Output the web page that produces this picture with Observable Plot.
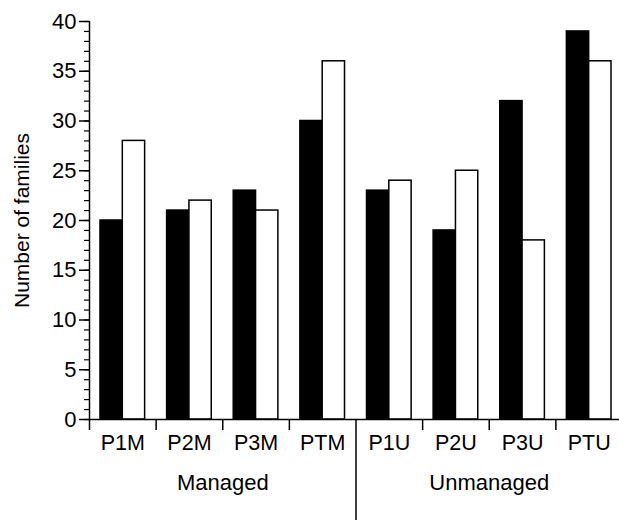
<!DOCTYPE html>
<html>
<head>
<meta charset="utf-8">
<script src="https://cdn.jsdelivr.net/npm/d3@7"></script>
<script src="https://cdn.jsdelivr.net/npm/@observablehq/plot@0.6"></script>
<style>
  html, body { margin: 0; padding: 0; background: #fff; }
</style>
</head>
<body>
<div id="chart"></div>
<script>
const groups = ["P1M", "P2M", "P3M", "PTM", "P1U", "P2U", "P3U", "PTU"];
const blackValues = [20, 21, 23, 30, 23, 19, 32, 39];
const whiteValues = [28, 22, 21, 36, 24, 25, 18, 36];
const sections = ["Managed", "Unmanaged"];
const yMajorTicks = [0, 5, 10, 15, 20, 25, 30, 35, 40];
const yLabel = "Number of families";

const font = "'Liberation Sans', Arial, Helvetica, sans-serif";
const pad = 0.165, bw = 0.335;

const rows = [];
groups.forEach((g, i) => {
  rows.push({group: g, i, s: 0, value: blackValues[i]});
  rows.push({group: g, i, s: 1, value: whiteValues[i]});
});
const minorTicks = d3.range(0, 41, 1);
const boundaryTicks = d3.range(0, groups.length + 1).filter(v => v !== groups.length / 2);

const chart = Plot.plot({
  width: 619,
  height: 522,
  marginLeft: 89,
  marginTop: 21,
  marginBottom: 103,
  marginRight: 0,
  style: {fontFamily: font, fontSize: "21px", background: "white", color: "black"},
  x: {domain: [0, groups.length], range: [89, 622], axis: null},
  y: {domain: [0, 40], axis: null},
  marks: [
    Plot.rectY(rows, {
      x1: d => d.i + pad + d.s * bw,
      x2: d => d.i + pad + (d.s + 1) * bw,
      y: "value",
      fill: d => d.s === 0 ? "black" : "white",
      stroke: "black",
      strokeWidth: 1.5
    }),
    Plot.axisY(minorTicks, {anchor: "left", tickSize: 5, tickFormat: () => "", strokeWidth: 1.2, label: null}),
    Plot.axisY(yMajorTicks, {anchor: "left", tickSize: 10, tickPadding: 3, strokeWidth: 1.5, fontSize: 22, label: null}),
    Plot.ruleX([0], {y1: 0, y2: 40, strokeWidth: 1.5}),
    Plot.ruleY([0], {x1: 0, x2: groups.length, strokeWidth: 1.5}),
    Plot.axisX(boundaryTicks, {anchor: "bottom", tickSize: 11, tickFormat: () => "", strokeWidth: 1.5, label: null}),
    Plot.axisX([groups.length / 2], {anchor: "bottom", tickSize: 101, tickFormat: () => "", strokeWidth: 1.5, label: null}),
    Plot.text(groups, {x: (d, i) => i + 0.5, y: 0, dy: 24, text: d => d, fontSize: 21.5}),
    Plot.text(sections, {x: (d, i) => i * 4 + 2, y: 0, dy: 63, text: d => d, fontSize: 22}),
    Plot.text([yLabel], {x: 0, y: 20, dx: -67, rotate: -90, text: d => d, fontSize: 21})
  ]
});
document.getElementById("chart").appendChild(chart);
</script>
</body>
</html>
